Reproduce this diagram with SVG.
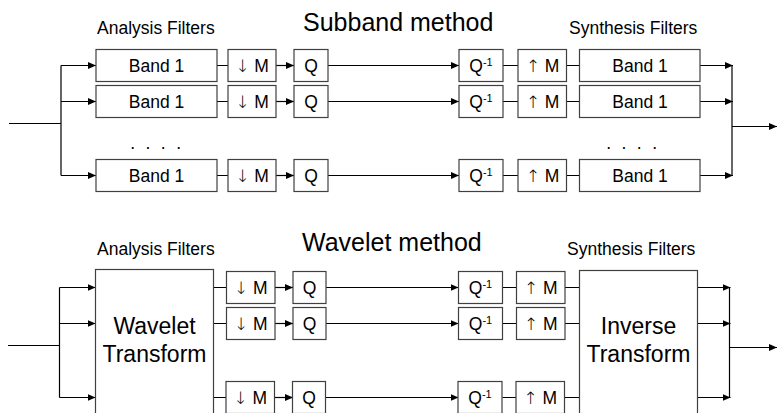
<svg xmlns="http://www.w3.org/2000/svg" width="777" height="413" viewBox="0 0 777 413">
<defs>
<style>
.box{fill:#fff;stroke:#404040;stroke-width:1.2}
.ln{fill:none;stroke:#000;stroke-width:1.2}
.arr{fill:none;stroke:#000;stroke-width:1.2;marker-end:url(#ah)}
.t{font-family:"Liberation Sans",Arial,sans-serif;font-size:17.5px;fill:#000;text-anchor:middle}
.lbl{font-family:"Liberation Sans",Arial,sans-serif;font-size:17.5px;fill:#000}
.ttl{font-family:"Liberation Sans",Arial,sans-serif;font-size:25px;fill:#000}
.big{font-family:"Liberation Sans",Arial,sans-serif;font-size:23px;fill:#000;text-anchor:middle}
.sup{font-size:11px}
.ar{font-family:"Noto Sans","DejaVu Sans",sans-serif;font-size:17px;font-weight:300;fill:#000}
</style>
<marker id="ah" markerWidth="8" markerHeight="8" refX="8" refY="4" orient="auto" markerUnits="userSpaceOnUse">
<path d="M0,0.5 L8,4 L0,7.5 z" fill="#000"/>
</marker>
</defs>
<rect width="777" height="413" fill="#fff"/>

<g id="titles">
<text class="lbl" x="97" y="33.5">Analysis Filters</text>
<text class="ttl" x="303" y="31">Subband method</text>
<text class="lbl" x="569" y="33.5">Synthesis Filters</text>
<text class="lbl" x="97" y="254.5">Analysis Filters</text>
<text class="ttl" x="302" y="250.7">Wavelet method</text>
<text class="lbl" x="567" y="254.5">Synthesis Filters</text>
</g>

<g id="connectors">
<path class="ln" d="M9,123.5 H61 M61,65.5 V175.5"/>
<path class="arr" d="M61,65.5 H96"/>
<path class="arr" d="M61,101.5 H96"/>
<path class="arr" d="M61,175.5 H96"/>
<path class="ln" d="M217,65.5 H228 M217,101.5 H228 M217,175.5 H228"/>
<path class="arr" d="M276,65.5 H294"/>
<path class="arr" d="M276,101.5 H294"/>
<path class="arr" d="M276,175.5 H294"/>
<path class="arr" d="M328,65.5 H459"/>
<path class="arr" d="M328,101.5 H459"/>
<path class="arr" d="M328,175.5 H459"/>
<path class="ln" d="M503,65.5 H518 M503,101.5 H518 M503,175.5 H518"/>
<path class="ln" d="M566.5,65.5 H579.5 M566.5,101.5 H579.5 M566.5,175.5 H579.5"/>
<path class="arr" d="M700,65.5 H733"/>
<path class="arr" d="M700,101.5 H733"/>
<path class="arr" d="M700,175.5 H733"/>
<path class="ln" d="M732,65.5 V175.5"/>
<path class="arr" d="M732,126.5 H777"/>
<path class="ln" d="M8,345.5 H59.5 M59.5,287.5 V397.5"/>
<path class="arr" d="M59.5,287.5 H95.5"/>
<path class="arr" d="M59.5,323.5 H95.5"/>
<path class="arr" d="M59.5,397.5 H95.5"/>
<path class="ln" d="M213.5,287.5 H226.5 M213.5,323.5 H226.5 M213.5,397.5 H226.5"/>
<path class="arr" d="M275,287.5 H293"/>
<path class="arr" d="M275,323.5 H293"/>
<path class="arr" d="M275,397.5 H293"/>
<path class="arr" d="M326,287.5 H458.5"/>
<path class="arr" d="M326,323.5 H458.5"/>
<path class="arr" d="M326,397.5 H458.5"/>
<path class="ln" d="M502.5,287.5 H516.5 M502.5,323.5 H516.5 M502.5,397.5 H516.5"/>
<path class="ln" d="M565,287.5 H579.5 M565,323.5 H579.5 M565,397.5 H579.5"/>
<path class="arr" d="M697.5,287.5 H730.5"/>
<path class="arr" d="M697.5,323.5 H730.5"/>
<path class="arr" d="M697.5,397.5 H730.5"/>
<path class="ln" d="M729.5,287.5 V397.5"/>
<path class="arr" d="M729.5,347.5 H777"/>
</g>

<g id="sb-band-a1"><rect class="box" x="96" y="49.5" width="121" height="32"/><text class="t" x="156.5" y="72">Band 1</text></g>
<g id="sb-band-a2"><rect class="box" x="96" y="85.5" width="121" height="32"/><text class="t" x="156.5" y="108">Band 1</text></g>
<g id="sb-band-a3"><rect class="box" x="96" y="159.5" width="121" height="32"/><text class="t" x="156.5" y="182">Band 1</text></g>
<g id="sb-dots-a"><text class="t" x="157" y="149" letter-spacing="2.8">. . . .</text></g>
<g id="sb-down1"><rect class="box" x="228" y="49.5" width="48" height="32"/><text class="t" x="252" y="72"><tspan class="ar">↓</tspan> M</text></g>
<g id="sb-down2"><rect class="box" x="228" y="85.5" width="48" height="32"/><text class="t" x="252" y="108"><tspan class="ar">↓</tspan> M</text></g>
<g id="sb-down3"><rect class="box" x="228" y="159.5" width="48" height="32"/><text class="t" x="252" y="182"><tspan class="ar">↓</tspan> M</text></g>
<g id="sb-q1"><rect class="box" x="294" y="49.5" width="34" height="32"/><text class="t" x="311" y="72">Q</text></g>
<g id="sb-q2"><rect class="box" x="294" y="85.5" width="34" height="32"/><text class="t" x="311" y="108">Q</text></g>
<g id="sb-q3"><rect class="box" x="294" y="159.5" width="34" height="32"/><text class="t" x="311" y="182">Q</text></g>
<g id="sb-qi1"><rect class="box" x="459" y="49.5" width="44" height="32"/><text class="t" x="481" y="72">Q<tspan class="sup" dy="-6">-1</tspan></text></g>
<g id="sb-qi2"><rect class="box" x="459" y="85.5" width="44" height="32"/><text class="t" x="481" y="108">Q<tspan class="sup" dy="-6">-1</tspan></text></g>
<g id="sb-qi3"><rect class="box" x="459" y="159.5" width="44" height="32"/><text class="t" x="481" y="182">Q<tspan class="sup" dy="-6">-1</tspan></text></g>
<g id="sb-up1"><rect class="box" x="518" y="49.5" width="48.5" height="32"/><text class="t" x="542.5" y="72"><tspan class="ar">↑</tspan> M</text></g>
<g id="sb-up2"><rect class="box" x="518" y="85.5" width="48.5" height="32"/><text class="t" x="542.5" y="108"><tspan class="ar">↑</tspan> M</text></g>
<g id="sb-up3"><rect class="box" x="518" y="159.5" width="48.5" height="32"/><text class="t" x="542.5" y="182"><tspan class="ar">↑</tspan> M</text></g>
<g id="sb-band-s1"><rect class="box" x="579.5" y="49.5" width="120.5" height="32"/><text class="t" x="640" y="72">Band 1</text></g>
<g id="sb-band-s2"><rect class="box" x="579.5" y="85.5" width="120.5" height="32"/><text class="t" x="640" y="108">Band 1</text></g>
<g id="sb-band-s3"><rect class="box" x="579.5" y="159.5" width="120.5" height="32"/><text class="t" x="640" y="182">Band 1</text></g>
<g id="sb-dots-s"><text class="t" x="633" y="149" letter-spacing="2.8">. . . .</text></g>

<g id="wv-transform"><rect class="box" x="95.5" y="269.5" width="118" height="170"/><text class="big" x="154.5" y="334">Wavelet</text><text class="big" x="154.5" y="361.7">Transform</text></g>
<g id="wv-down1"><rect class="box" x="226.5" y="271.5" width="48.5" height="32"/><text class="t" x="250.7" y="294"><tspan class="ar">↓</tspan> M</text></g>
<g id="wv-down2"><rect class="box" x="226.5" y="307.5" width="48.5" height="32"/><text class="t" x="250.7" y="330"><tspan class="ar">↓</tspan> M</text></g>
<g id="wv-down3"><rect class="box" x="226" y="381.5" width="48.5" height="32"/><text class="t" x="250.2" y="404"><tspan class="ar">↓</tspan> M</text></g>
<g id="wv-q1"><rect class="box" x="293" y="271.5" width="33" height="32"/><text class="t" x="309.5" y="294">Q</text></g>
<g id="wv-q2"><rect class="box" x="293" y="307.5" width="33" height="32"/><text class="t" x="309.5" y="330">Q</text></g>
<g id="wv-q3"><rect class="box" x="292.5" y="381.5" width="33" height="32"/><text class="t" x="309" y="404">Q</text></g>
<g id="wv-qi1"><rect class="box" x="458.5" y="271.5" width="44" height="32"/><text class="t" x="480.5" y="294">Q<tspan class="sup" dy="-6">-1</tspan></text></g>
<g id="wv-qi2"><rect class="box" x="458.5" y="307.5" width="44" height="32"/><text class="t" x="480.5" y="330">Q<tspan class="sup" dy="-6">-1</tspan></text></g>
<g id="wv-qi3"><rect class="box" x="458" y="381.5" width="44" height="32"/><text class="t" x="480" y="404">Q<tspan class="sup" dy="-6">-1</tspan></text></g>
<g id="wv-up1"><rect class="box" x="516.5" y="271.5" width="48.5" height="32"/><text class="t" x="540.7" y="294"><tspan class="ar">↑</tspan> M</text></g>
<g id="wv-up2"><rect class="box" x="516.5" y="307.5" width="48.5" height="32"/><text class="t" x="540.7" y="330"><tspan class="ar">↑</tspan> M</text></g>
<g id="wv-up3"><rect class="box" x="516" y="381.5" width="48.5" height="32"/><text class="t" x="540.2" y="404"><tspan class="ar">↑</tspan> M</text></g>
<g id="wv-inverse"><rect class="box" x="579.5" y="270.5" width="118" height="170"/><text class="big" x="638.5" y="334">Inverse</text><text class="big" x="638.5" y="361.7">Transform</text></g>
</svg>
